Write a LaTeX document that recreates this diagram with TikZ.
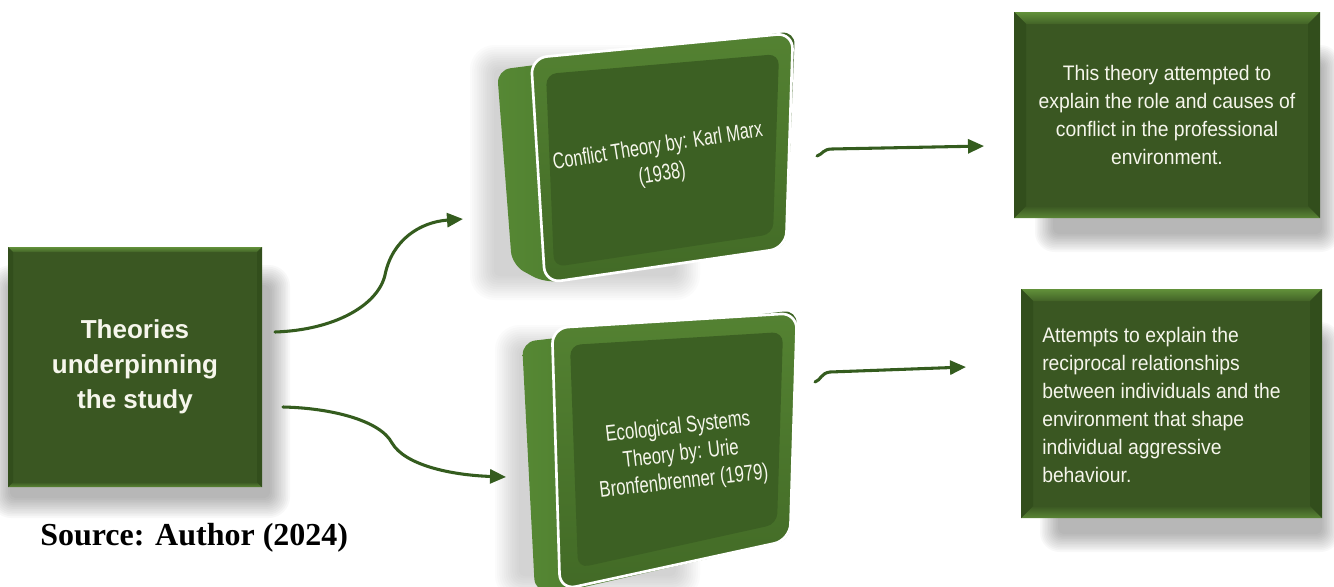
\documentclass[tikz,border=0pt]{standalone}
\usepackage{fontspec}
\setmainfont{Liberation Sans}
\newfontfamily\sourcefont{Liberation Serif}
\usetikzlibrary{arrows.meta,calc}

\definecolor{facegreen}{RGB}{58,87,34}
\definecolor{bevtop}{RGB}{98,145,58}
\definecolor{bevside}{RGB}{50,78,28}
\definecolor{inner3d}{RGB}{60,96,35}
\definecolor{ringtop}{RGB}{84,130,50}
\definecolor{ringbot}{RGB}{66,106,38}
\definecolor{sidelight}{RGB}{86,136,52}
\definecolor{sidedark}{RGB}{60,98,35}
\definecolor{arrowgreen}{RGB}{52,92,30}
\definecolor{txtwhite}{RGB}{246,246,236}

% soft shadow: stacked translucent rounded rectangles shrinking inwards
% #1-#4 corners, #5 blur width, #6 opacity of one layer
\newcommand\softshadow[6]{%
  \foreach \k in {0,...,11}{%
    \pgfmathsetmacro\dd{#5*\k/11}%
    \pgfmathsetmacro\rr{4+0.6*#5*(1-\k/11)}%
    \fill[black,opacity=#6,rounded corners=\rr pt]
      ({#1+\dd},{#2+\dd}) rectangle ({#3-\dd},{#4-\dd});
  }}

% bevelled rim on a rectangular node
\newcommand\bevelrim[2]{%
  \shade[top color=bevtop,bottom color=facegreen!80!bevtop]
    (#1.north west) -- (#1.north east) -- ($(#1.north east)+(-#2,#2)$) -- ($(#1.north west)+(#2,#2)$) -- cycle;
  \shade[top color=facegreen,bottom color=bevtop!80!facegreen]
    (#1.south west) -- (#1.south east) -- ($(#1.south east)+(-#2,-#2)$) -- ($(#1.south west)+(#2,-#2)$) -- cycle;
  \fill[bevside]
    (#1.north west) -- (#1.south west) -- ($(#1.south west)+(#2,-#2)$) -- ($(#1.north west)+(#2,#2)$) -- cycle;
  \fill[bevside]
    (#1.north east) -- (#1.south east) -- ($(#1.south east)+(-#2,-#2)$) -- ($(#1.north east)+(-#2,#2)$) -- cycle;
}

\tikzset{
  flatbox/.style={fill=facegreen, inner sep=0pt, outer sep=0pt, text=txtwhite},
  link/.style={draw=arrowgreen, line width=2.3pt, line cap=round,
               -{Triangle[length=12pt,width=10.5pt]}},
  facetext/.style={text=txtwhite, align=center, inner sep=0pt,
                   font=\fontsize{17}{21}\selectfont},
  notetext/.style={text=txtwhite, inner sep=0pt, xscale=0.92, transform shape,
                   font=\fontsize{15.75}{21}\selectfont}
}

\begin{document}
\begin{tikzpicture}[x=0.75pt,y=-0.75pt]
\useasboundingbox (0,0) rectangle (1334,586);
\clip (0,0) rectangle (1334,586);

% ---------- shadows ----------
\softshadow{-10}{265}{290}{518}{20}{0.026}
\softshadow{1035}{45}{1340}{252}{18}{0.026}
\softshadow{1040}{322}{1340}{552}{18}{0.026}
\softshadow{470}{45}{700}{300}{24}{0.014}
\softshadow{495}{325}{700}{600}{24}{0.014}

% ---------- left box ----------
\node (theories) [flatbox, minimum width=190.5pt, minimum height=180pt,
  align=center, font=\bfseries\fontsize{19.5}{26.25}\selectfont]
  at (135,367) {Theories\\underpinning\\the study};
\bevelrim{theories}{5}

\node (source) [anchor=base west, inner sep=0pt,
  font=\sourcefont\bfseries\fontsize{24}{28}\selectfont]
  at (40,545) {Source: Author (2024)};

% ---------- 3D box: conflict theory ----------
\shade[left color=sidelight, right color=sidedark, rounded corners=10pt]
  (497,70) -- (795,31) -- (786,248) -- (545,283) -- (512,265) -- cycle;
\shade[top color=ringtop, bottom color=ringbot, rounded corners=12pt]
  (531,58) -- (793,33) -- (786,248) -- (545,283) -- cycle;
\draw[white, line width=2pt, rounded corners=12pt]
  (531,58) -- (793,33) -- (786,248) -- (545,283) -- cycle;
\fill[inner3d, rounded corners=8pt]
  (546,74) -- (779,54) -- (773,234) -- (554,267) -- cycle;
\node (conflict) [facetext, rotate=9, xscale=0.72, transform shape]
  at (660,161) {Conflict Theory by: Karl Marx\\(1938)};

% ---------- 3D box: ecological systems theory ----------
\shade[left color=sidelight, right color=sidedark, rounded corners=10pt]
  (522,342) -- (797,310) -- (790,540) -- (562,592) -- (535,592) -- cycle;
\shade[top color=ringtop, bottom color=ringbot, rounded corners=12pt]
  (552,328) -- (797,313) -- (790,540) -- (560,590) -- cycle;
\draw[white, line width=2pt, rounded corners=12pt]
  (552,328) -- (797,313) -- (790,540) -- (560,590) -- cycle;
\fill[inner3d, rounded corners=8pt]
  (570,345) -- (783,332) -- (777,524) -- (578,568) -- cycle;
\node (ecological) [facetext, rotate=6.5, xscale=0.74, transform shape,
  font=\fontsize{17}{20.5}\selectfont]
  at (681,455) {Ecological Systems\\Theory by: Urie\\Bronfenbrenner (1979)};

% ---------- right boxes ----------
\node (roleconflict) [flatbox, minimum width=229.5pt, minimum height=154.5pt]
  at (1167,115) {};
\bevelrim{roleconflict}{12}
\node (roletext) [notetext, align=center]
  at (roleconflict.center) {This theory attempted to\\explain the role and causes of\\conflict in the professional\\environment.};

\node (reciprocal) [flatbox, minimum width=225.75pt, minimum height=171.75pt]
  at (1171.5,403.5) {};
\bevelrim{reciprocal}{12}
\node (reciprocaltext) [notetext, align=left, anchor=west]
  at ($(reciprocal.west)+(21,1)$) {Attempts to explain the\\reciprocal relationships\\between individuals and the\\environment that shape\\individual aggressive\\behaviour.};

% ---------- connectors ----------
\coordinate (a1s) at ($(theories.east)+(13,-35)$);
\coordinate (a1e) at (463,219);
\coordinate (a2s) at ($(theories.east)+(21,40)$);
\coordinate (a2e) at (506,477);
\coordinate (a3s) at (817,156);
\coordinate (a3e) at (984,146);
\coordinate (a4s) at (815,382);
\coordinate (a4e) at (966,367);

\draw[link] (a1s) .. controls (335,330) and (378,305) .. (385,275)
  .. controls (392,240) and (420,222) .. (a1e);
\draw[link] (a2s) .. controls (330,408) and (380,420) .. (392,443)
  .. controls (405,465) and (450,475) .. (a2e);
\draw[link] (a3s) .. controls (823,154) and (823,149) .. (832,149) -- (a3e);
\draw[link] (a4s) .. controls (821,380) and (821,373) .. (830,372) -- (a4e);
\end{tikzpicture}
\end{document}
